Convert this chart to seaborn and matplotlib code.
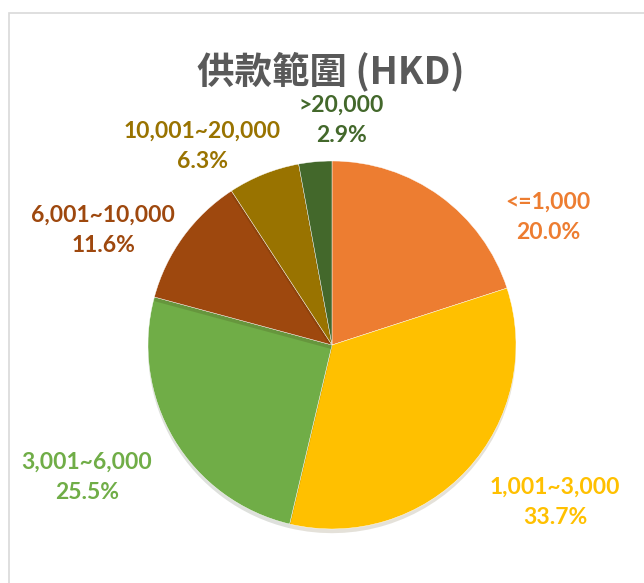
import matplotlib
matplotlib.use("Agg")
import matplotlib.pyplot as plt
import matplotlib.patheffects as pe
import seaborn as sns

# data
categories = ["<=1,000", "1,001~3,000", "3,001~6,000", "6,001~10,000", "10,001~20,000", ">20,000"]
shares = [20.0, 33.7, 25.5, 11.6, 6.3, 2.9]
slice_colors = ["#ED7D31", "#FFC000", "#70AD47", "#9E480E", "#997300", "#43682B"]
title = "供款範圍 (HKD)"

sns.set_theme(style="white")
plt.rcParams["font.family"] = ["Noto Sans CJK TC", "DejaVu Sans"]

palette = sns.color_palette(slice_colors)

W, H, DPI = 644, 583, 100
fig = plt.figure(figsize=(W / DPI, H / DPI), dpi=DPI)
ax = fig.add_axes([0, 0, 1, 1])

# pie geometry in pixels
cx, cy, r = 332, 345, 184

wedges, _ = ax.pie(shares, colors=palette, startangle=90, counterclock=False,
                   radius=1, center=(0, 0), frame=True,
                   wedgeprops=dict(linewidth=0.3, edgecolor="white"))
for w in wedges:
    w.set_path_effects([pe.SimplePatchShadow(offset=(0, -3), alpha=0.15), pe.Normal()])
ax.set_xlim(-cx / r, (W - cx) / r)
ax.set_ylim(-(H - cy) / r, cy / r)
ax.axis("off")

# label block centres (pixels from top-left)
label_pos = [(548, 217), (555, 502), (87, 477), (103, 230), (202, 146), (341, 120)]
for cat, val, col, (lx, ly) in zip(categories, shares, palette, label_pos):
    ax.text((lx - cx) / r, (cy - ly) / r, f"{cat}\n{val:.1f}%", color=col,
            ha="center", va="center", fontsize=16.5, fontweight="bold",
            family=["Lato", "DejaVu Sans"], linespacing=1.55)

fig.text(331 / W, 1 - 71 / H, title, ha="center", va="center", fontsize=27,
         fontweight="bold", color="#595959", family=["Noto Sans CJK TC", "DejaVu Sans"])

# chart area border
fig.add_artist(plt.Rectangle((9 / W, -0.1), 1.2, 1 - 13 / H + 0.1, transform=fig.transFigure,
                             fill=False, edgecolor="#D9D9D9", linewidth=1.2))

fig.savefig("out.png", dpi=DPI)
